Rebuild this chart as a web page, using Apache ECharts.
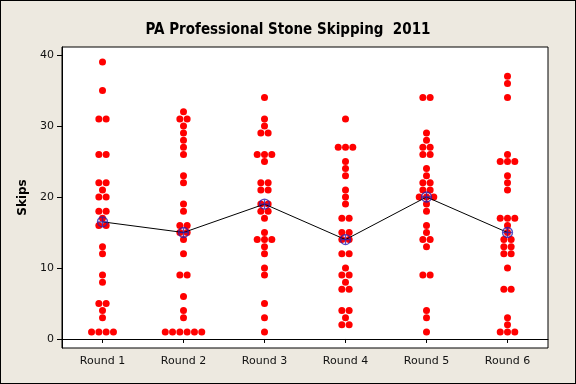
<!DOCTYPE html>
<html>
<head>
<meta charset="utf-8">
<script src="https://cdn.jsdelivr.net/npm/echarts@6/dist/echarts.min.js"></script>
<style>
html,body{margin:0;padding:0;background:#ede9e0;}
#wrap{position:relative;width:576px;height:384px;}
#chart{position:absolute;left:0;top:0;width:576px;height:384px;}
#frame{position:absolute;left:0;top:0;width:574px;height:382px;border:1px solid #000;pointer-events:none;}
</style>
</head>
<body>
<div id="wrap"><div id="chart"></div><div id="frame"></div></div>
<script>
const categories = ['Round 1','Round 2','Round 3','Round 4','Round 5','Round 6'];
const round1 = [39,35,31,31,26,26,22,22,21,20,20,18,18,17,16,16,13,12,9,8,5,5,4,3,1,1,1,1];
const round2 = [32,31,31,30,29,28,27,26,23,22,19,18,16,16,15,15,14,12,9,9,6,4,3,1,1,1,1,1,1];
const round3 = [34,31,30,29,29,26,26,26,25,22,22,21,21,19,19,18,18,17,15,14,14,14,13,12,10,9,5,3,1];
const round4 = [31,27,27,27,25,24,23,21,20,19,17,17,15,15,14,14,12,12,10,9,9,8,7,7,4,4,3,2,2];
const round5 = [34,34,29,28,27,27,26,26,24,23,22,22,21,21,20,20,20,19,18,16,15,14,14,13,9,9,4,3,1];
const round6 = [37,36,34,26,25,25,25,23,22,21,17,17,17,16,15,14,14,13,13,12,12,10,7,7,3,2,1,1,1];
const yTicks = [0,10,20,30,40];

const rounds = [round1,round2,round3,round4,round5,round6];
const DOT_GAP = 7.3;

// build scatter points: ties laid side by side
const points = [];
rounds.forEach((vals, r) => {
  const counts = {};
  vals.forEach(v => { counts[v] = (counts[v] || 0) + 1; });
  const seen = {};
  vals.forEach(v => {
    const n = counts[v];
    const i = seen[v] || 0;
    seen[v] = i + 1;
    points.push({ value: [categories[r], v], symbolOffset: [(i - (n - 1) / 2) * DOT_GAP, 0] });
  });
});

function median(arr) {
  const s = arr.slice().sort((a,b) => a - b);
  const m = Math.floor(s.length / 2);
  return s.length % 2 ? s[m] : (s[m-1] + s[m]) / 2;
}
const medians = rounds.map((vals, r) => [categories[r], median(vals)]);

const chart = echarts.init(document.getElementById('chart'), null, { renderer: 'canvas' });
const labelFont = { fontFamily: 'DejaVu Sans', fontSize: 11, color: '#111' };
chart.setOption({
  backgroundColor: '#ede9e0',
  animation: false,
  title: {
    text: 'PA Professional Stone Skipping  2011',
    left: 'center',
    top: 18,
    textStyle: { fontFamily: 'DejaVu Sans Condensed', fontWeight: 'bold', fontSize: 15, color: '#000' }
  },
  grid: {
    left: 62, top: 47, width: 486, height: 301,
    show: true, backgroundColor: '#fff', borderColor: '#000', borderWidth: 1
  },
  xAxis: {
    type: 'category',
    data: categories,
    boundaryGap: true,
    axisLine: { show: true, lineStyle: { color: '#000', width: 1 } },
    axisTick: { show: true, alignWithLabel: true, length: 4, lineStyle: { color: '#000' } },
    axisLabel: Object.assign({ margin: 8 }, labelFont),
    splitLine: { show: false }
  },
  yAxis: {
    type: 'value',
    min: -1.27, max: 41.13,
    name: 'Skips',
    nameLocation: 'middle',
    nameGap: 33,
    nameTextStyle: { fontFamily: 'DejaVu Sans', fontWeight: 'bold', fontSize: 12, color: '#000' },
    axisLine: { show: true, lineStyle: { color: '#000', width: 1 } },
    axisTick: { show: true, length: 5, lineStyle: { color: '#000' }, customValues: yTicks },
    axisLabel: Object.assign({ margin: 8, customValues: yTicks }, labelFont),
    splitLine: { show: false }
  },
  series: [
    {
      type: 'scatter',
      data: points,
      symbol: 'circle',
      symbolSize: 7,
      itemStyle: { color: '#ff0000', opacity: 1 },
      z: 2
    },
    {
      type: 'line',
      data: medians,
      symbol: 'none',
      lineStyle: { color: '#000', width: 1 },
      z: 3
    },
    {
      type: 'scatter',
      data: medians,
      symbol: 'path://M0,5 A5,5 0 1,1 10,5 A5,5 0 1,1 0,5 Z M5,0 L5,10 M0,5 L10,5',
      symbolSize: 10,
      itemStyle: { color: 'none', borderColor: '#2a1fb0', borderWidth: 1.3 },
      z: 4
    }
  ]
});
</script>
</body>
</html>
